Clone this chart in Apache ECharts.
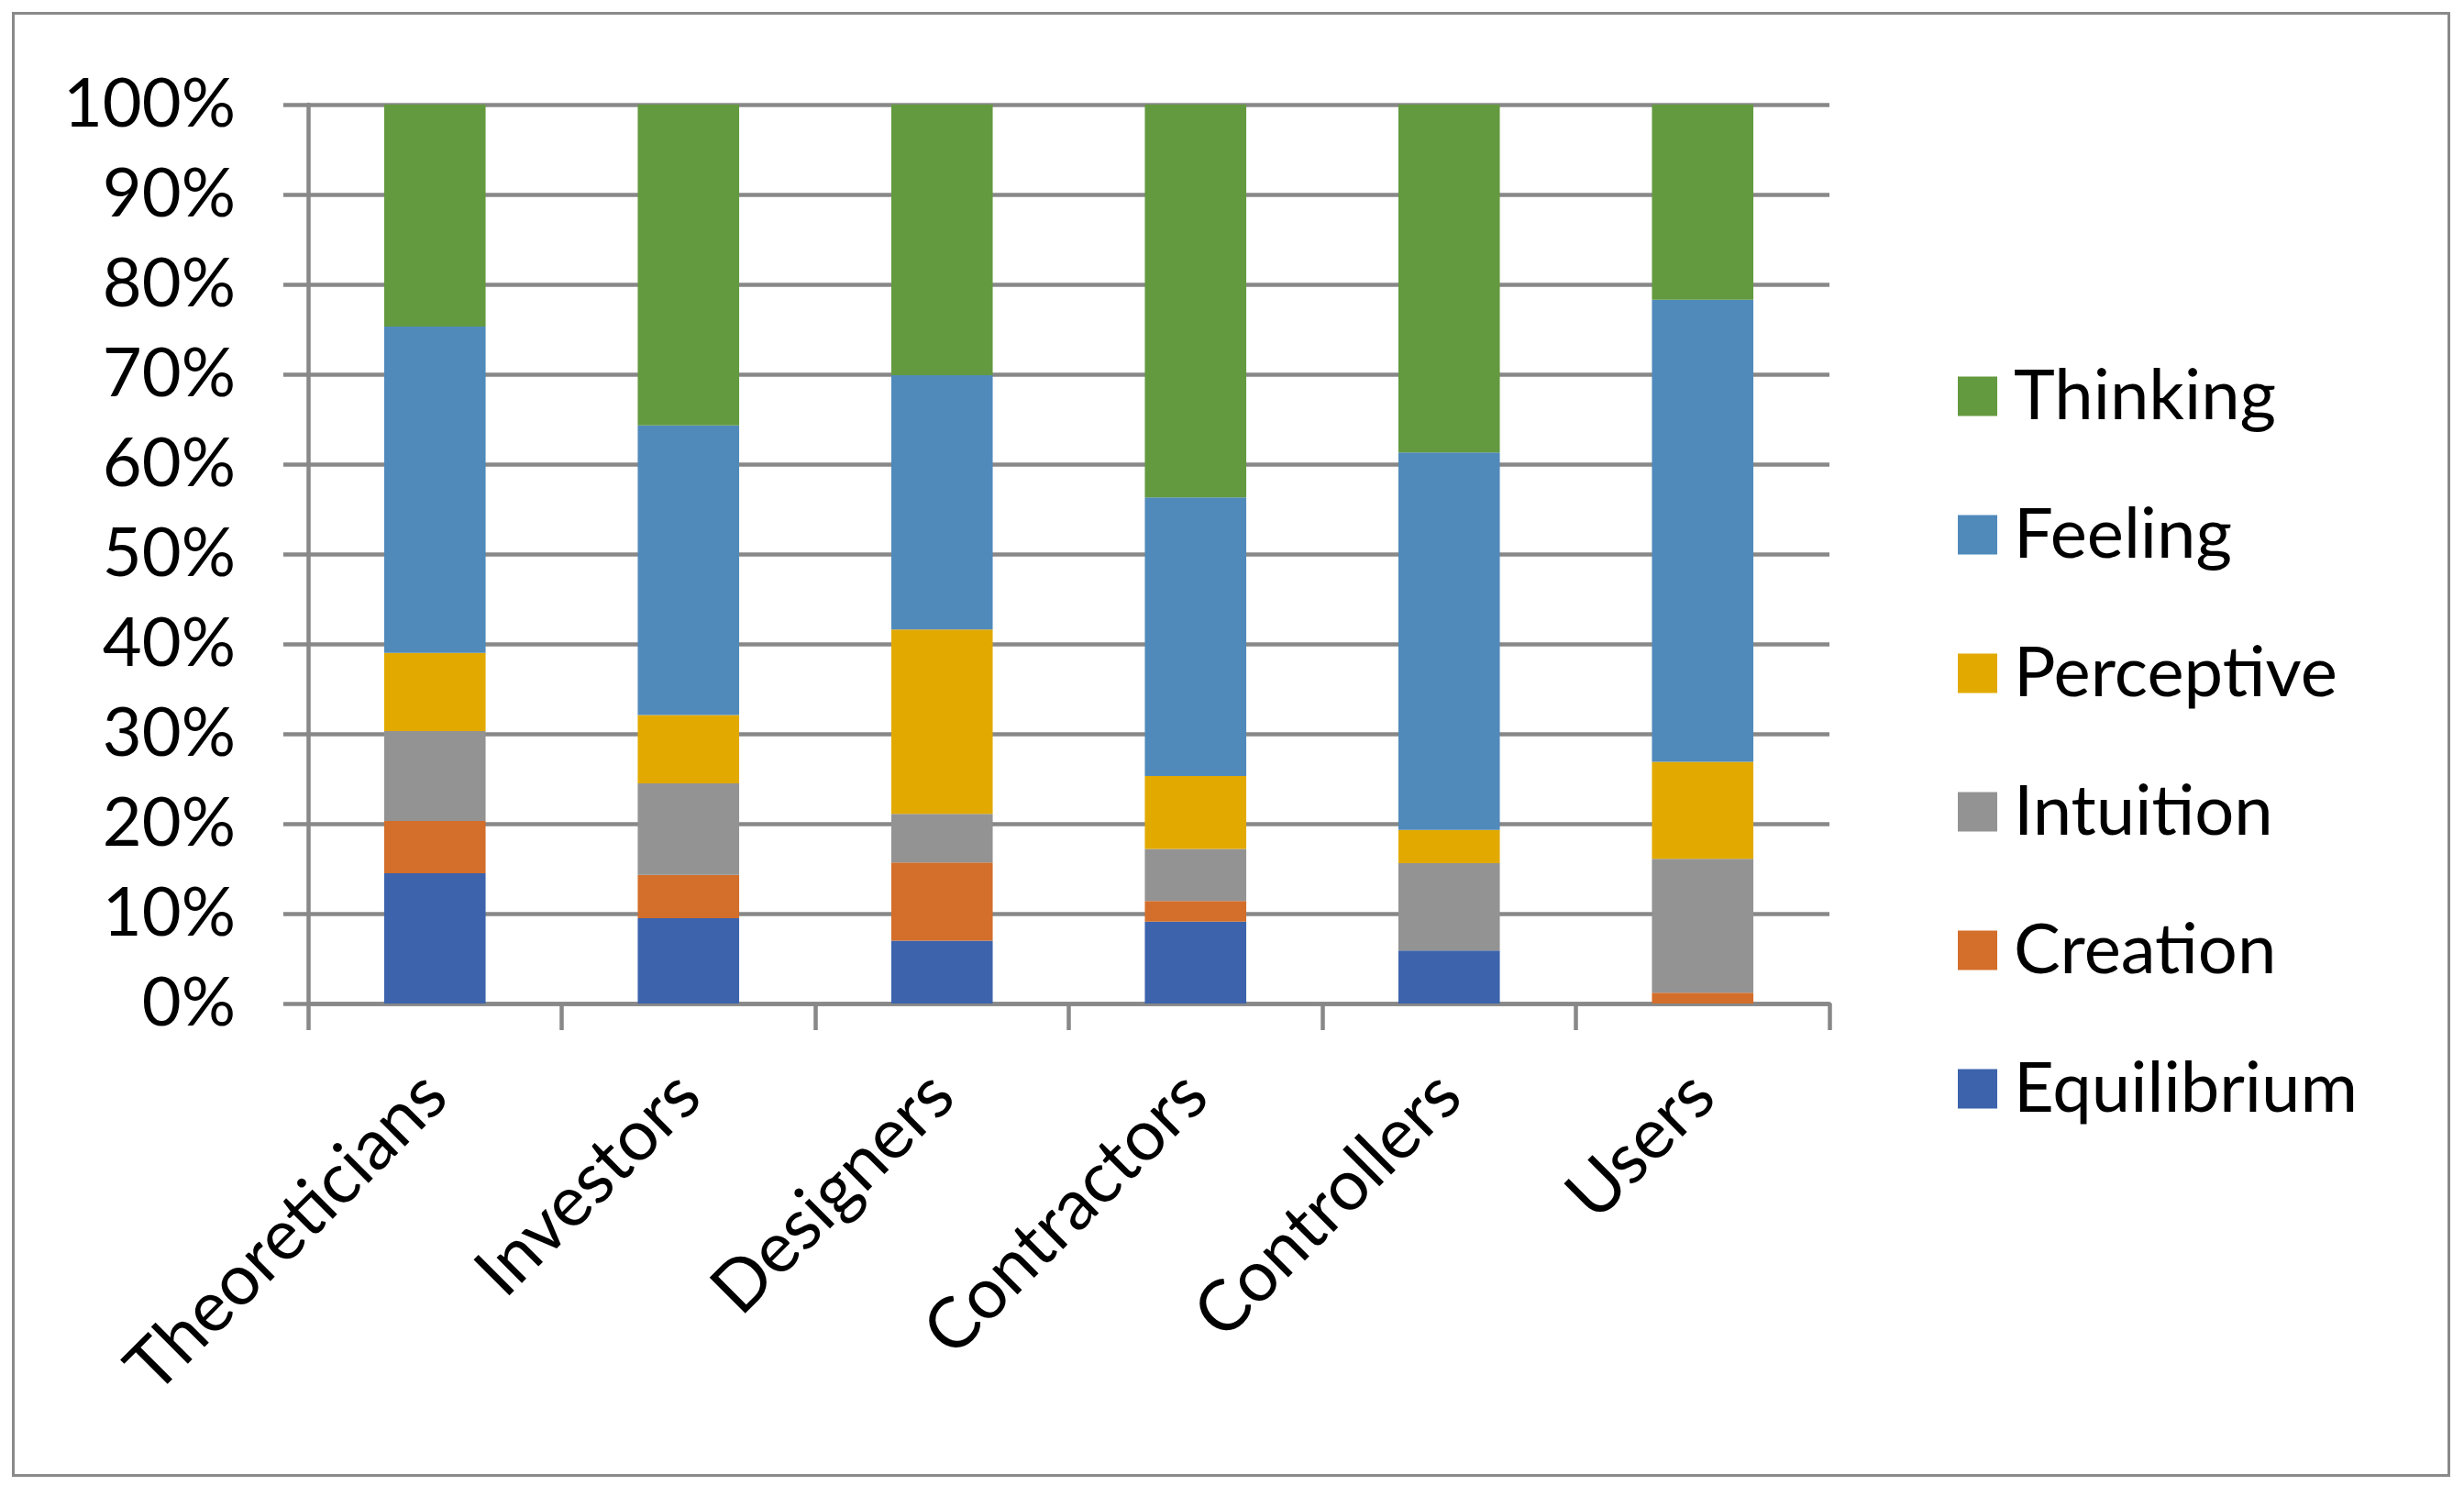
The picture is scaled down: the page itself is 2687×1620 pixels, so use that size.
<!DOCTYPE html>
<html>
<head>
<meta charset="utf-8">
<script src="https://cdn.jsdelivr.net/npm/echarts@6/dist/echarts.min.js"></script>
<style>html,body{margin:0;padding:0;background:#fff;}#c{width:2687px;height:1620px;}</style>
</head>
<body>
<div id="c"></div>
<script>
const categories = ['Theoreticians', 'Investors', 'Designers', 'Contractors', 'Controllers', 'Users'];
const equilibrium = [14.5, 9.5, 7.0, 9.1, 5.9, 0];
const creation = [5.8, 4.8, 8.7, 2.3, 0, 1.2];
const intuition = [10.0, 10.2, 5.4, 5.8, 9.7, 14.9];
const perceptive = [8.7, 7.6, 20.5, 8.1, 3.7, 10.8];
const feeling = [36.3, 32.2, 28.3, 31.0, 42.0, 51.4];
const thinking = [24.7, 35.7, 30.1, 43.7, 38.7, 21.7];
const yTicks = [0, 10, 20, 30, 40, 50, 60, 70, 80, 90, 100];

const seriesDefs = [
  ['Equilibrium', equilibrium, '#3C63AC'],
  ['Creation', creation, '#D36E2B'],
  ['Intuition', intuition, '#939393'],
  ['Perceptive', perceptive, '#E2AA00'],
  ['Feeling', feeling, '#508ABB'],
  ['Thinking', thinking, '#639A3F']
];
const FONT = 'Lato';
const chart = echarts.init(document.getElementById('c'), null, {renderer: 'canvas'});
chart.setOption({
  animation: false,
  backgroundColor: '#ffffff',
  textStyle: {fontFamily: FONT, color: '#000'},
  graphic: [{
    type: 'rect', left: 12, top: 12,
    shape: {width: 2656, height: 1594},
    style: {fill: 'none', stroke: '#8a8a8a', lineWidth: 3},
    silent: true
  }],
  grid: {left: 336, right: 692, top: 114, bottom: 526, containLabel: false},
  legend: {
    orient: 'vertical',
    left: 2130,
    top: 387,
    itemWidth: 43,
    itemHeight: 43,
    itemGap: 71,
    icon: 'rect',
    data: ['Thinking', 'Feeling', 'Perceptive', 'Intuition', 'Creation', 'Equilibrium'],
    textStyle: {fontFamily: FONT, fontSize: 76, color: '#000', lineHeight: 80, padding: [0, 0, 0, 13]}
  },
  xAxis: {
    type: 'category',
    data: categories,
    axisLine: {show: true, lineStyle: {color: '#888', width: 4.5}},
    axisTick: {show: true, length: 29, lineStyle: {color: '#888', width: 4.5}},
    axisLabel: {rotate: 45, margin: 88, fontFamily: FONT, fontSize: 77, color: '#000', interval: 0}
  },
  yAxis: {
    type: 'value',
    min: 0, max: 100, interval: 10,
    axisLine: {show: true, lineStyle: {color: '#888', width: 4.5}},
    axisTick: {show: true, length: 27, lineStyle: {color: '#888', width: 4.5}},
    splitLine: {show: true, lineStyle: {color: '#888', width: 4.5}},
    axisLabel: {margin: 79, fontFamily: FONT, fontSize: 74, color: '#000',
      formatter: function (v) { return yTicks.indexOf(v) >= 0 ? v + '%' : ''; }}
  },
  series: seriesDefs.map(function (d) {
    return {
      name: d[0], type: 'bar', stack: 'total', data: d[1],
      barWidth: '40%',
      itemStyle: {color: d[2]}
    };
  })
});
</script>
</body>
</html>
